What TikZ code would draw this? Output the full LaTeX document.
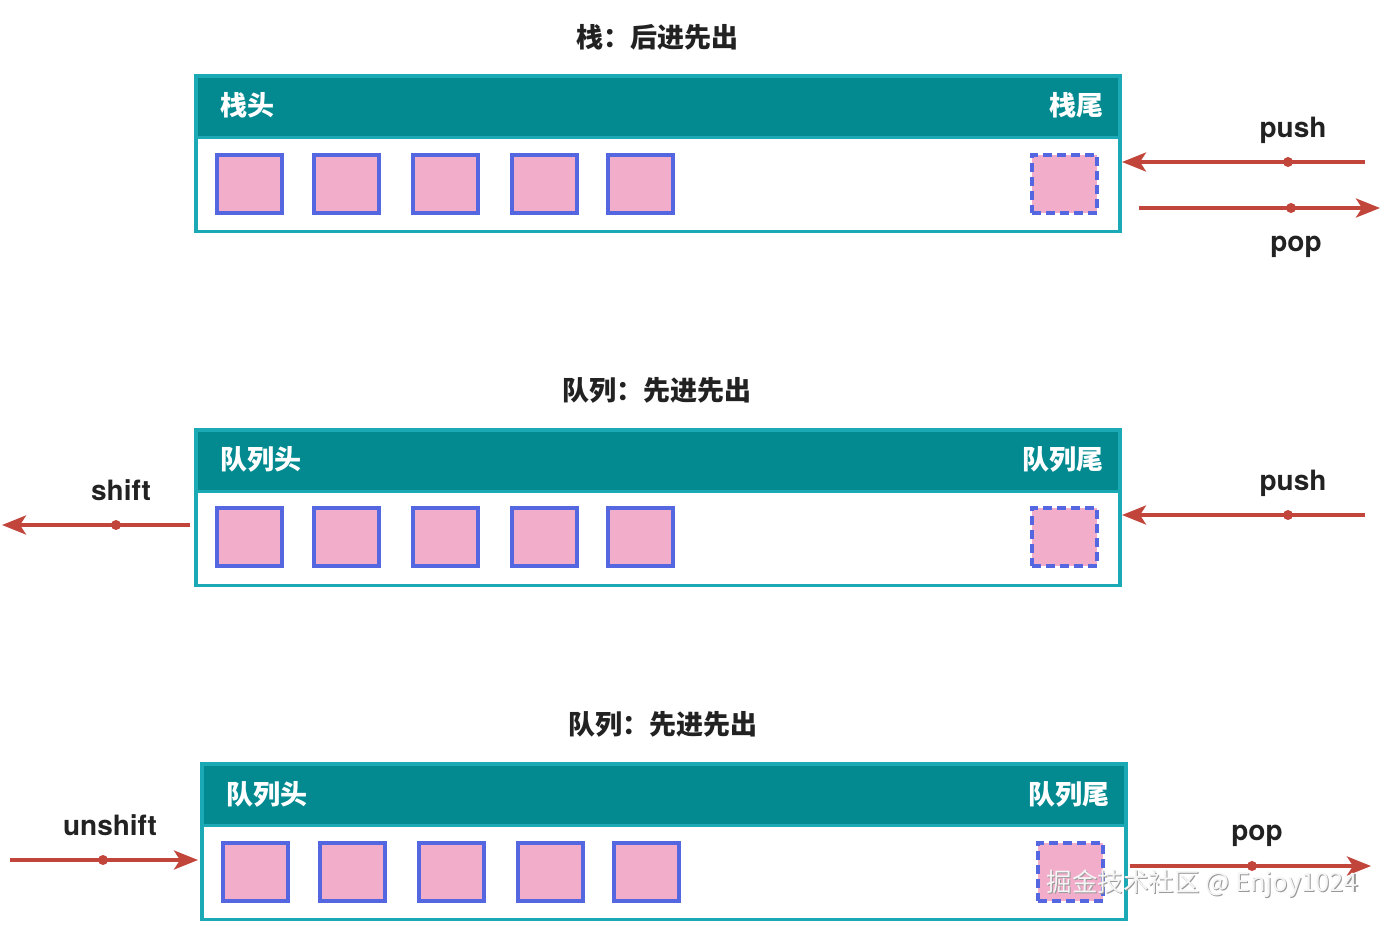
\documentclass[tikz,border=0pt]{standalone}
\usepackage{fontspec}
\setmainfont{TeX Gyre Heros}
\newfontfamily\cjk{Noto Sans CJK SC}
\newfontfamily\lat{TeX Gyre Heros}
\usetikzlibrary{arrows.meta}
\definecolor{teal1}{HTML}{028A90}
\definecolor{bord}{HTML}{1BAAB5}
\definecolor{sqfill}{HTML}{F2ADCB}
\definecolor{sqline}{HTML}{5567E0}
\definecolor{arr}{HTML}{C2453B}
\definecolor{ink}{HTML}{222222}
\tikzset{
  header/.style={fill=teal1, draw=bord, line width=3.5pt, minimum width=924pt, minimum height=62pt, anchor=north west, inner sep=0pt},
  body/.style={fill=white, draw=bord, line width=3.5pt, minimum width=924pt, minimum height=94pt, anchor=north west, inner sep=0pt},
  sq/.style={fill=sqfill, draw=sqline, line width=3.8pt, minimum width=65pt, minimum height=58pt, anchor=north west, inner sep=0pt},
  sqd/.style={sq, dash pattern=on 9pt off 5pt},
  title/.style={text=ink, font=\cjk\bfseries\fontsize{27}{31}\selectfont},
  htext/.style={text=white, font=\cjk\bfseries\fontsize{27}{31}\selectfont, inner sep=0pt},
  lab/.style={text=ink, font=\lat\bfseries\fontsize{28}{32}\selectfont},
  arrline/.style={draw=arr, line width=3.6pt, -{Stealth[length=24pt,width=19pt,inset=6pt]}},
  dot/.style={circle, fill=arr, inner sep=0pt, minimum size=10pt},
}
\begin{document}
\begin{tikzpicture}[x=1pt,y=-1pt]
\useasboundingbox (0,0) rectangle (1381,924);

% ===== Stack =====
\node[title] (t1) at (657,37) {栈：后进先出};
\node[header] (h1) at (194,74) {};
\node[body] (b1) at (194,135.5) {};
\node[htext, anchor=west] (h1l) at (220,105) {栈头};
\node[htext, anchor=east] (h1r) at (1104,105) {栈尾};
\foreach \x [count=\i] in {215,312,411,510,606}
  \node[sq] (s1\i) at (\x,153) {};
\node[sqd] (s1d) at (1030,153) {};
% push
\coordinate (p1s) at (1365,162);
\coordinate (p1e) at (1122,162);
\draw[arrline] (p1s) -- (p1e);
\node[dot] (p1d) at (1288,162) {};
\node[lab] (p1l) at (1293,130) {push};
% pop
\coordinate (o1s) at (1139,208);
\coordinate (o1e) at (1380,208);
\draw[arrline] (o1s) -- (o1e);
\node[dot] (o1d) at (1291,208) {};
\node[lab] (o1l) at (1296,247) {pop};

% ===== Queue 1 =====
\node[title] (t2) at (657,390) {队列：先进先出};
\node[header] (h2) at (194,428) {};
\node[body] (b2) at (194,489.5) {};
\node[htext, anchor=west] (h2l) at (220,459) {队列头};
\node[htext, anchor=east] (h2r) at (1104,459) {队列尾};
\foreach \x [count=\i] in {215,312,411,510,606}
  \node[sq] (s2\i) at (\x,506) {};
\node[sqd] (s2d) at (1030,506) {};
% shift
\coordinate (sh2s) at (190,525);
\coordinate (sh2e) at (2,525);
\draw[arrline] (sh2s) -- (sh2e);
\node[dot] (sh2d) at (116,525) {};
\node[lab] (sh2l) at (121,490) {shift};
% push
\coordinate (p2s) at (1365,515);
\coordinate (p2e) at (1122,515);
\draw[arrline] (p2s) -- (p2e);
\node[dot] (p2d) at (1288,515) {};
\node[lab] (p2l) at (1293,483) {push};

% ===== Queue 2 =====
\node[title] (t3) at (663,724) {队列：先进先出};
\node[header] (h3) at (200,762) {};
\node[body] (b3) at (200,823.5) {};
\node[htext, anchor=west] (h3l) at (226,794) {队列头};
\node[htext, anchor=east] (h3r) at (1110,794) {队列尾};
\foreach \x [count=\i] in {221,318,417,516,612}
  \node[sq] (s3\i) at (\x,841) {};
\node[sqd] (s3d) at (1036,841) {};
% unshift
\coordinate (u3s) at (10,860);
\coordinate (u3e) at (198,860);
\draw[arrline] (u3s) -- (u3e);
\node[dot] (u3d) at (103,860) {};
\node[lab] (u3l) at (110,825) {unshift};
% pop
\coordinate (o3s) at (1130,866);
\coordinate (o3e) at (1371,866);
\draw[arrline] (o3s) -- (o3e);
\node[dot] (o3d) at (1252,866) {};
\node[lab] (o3l) at (1257,836) {pop};

% watermark
\node[text=gray!80, font=\cjk\fontsize{25.5}{28}\selectfont, anchor=west] (wm0) at (1044.2,885.2) {掘金技术社区 @ Enjoy1024};
\node[text=white!92!gray, font=\cjk\fontsize{25.5}{28}\selectfont, anchor=west] (wm) at (1043,884) {掘金技术社区 @ Enjoy1024};
\end{tikzpicture}
\end{document}
